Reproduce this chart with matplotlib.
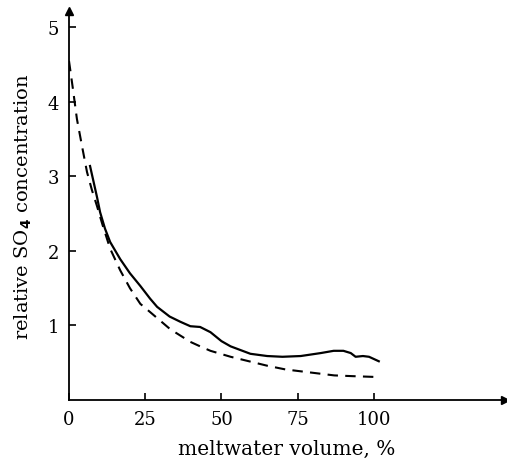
import matplotlib
matplotlib.use('Agg')
import matplotlib.pyplot as plt

# Values (meltwater volume %, relative SO4 concentration)
solid_x = [6.9, 9.2, 10.2, 11.8, 13.5, 16.8, 20.0, 23.4, 26.6, 28.9, 33.0, 36.5, 39.8,
           43.0, 46.4, 50.0, 53.0, 59.5, 65.0, 70.0, 76.0, 82.6, 86.8, 90.0, 92.4,
           94.0, 96.4, 98.4, 101.6]
solid_y = [3.14, 2.72, 2.52, 2.30, 2.12, 1.89, 1.70, 1.53, 1.36, 1.25, 1.12, 1.05, 0.99,
           0.98, 0.91, 0.79, 0.72, 0.62, 0.59, 0.58, 0.59, 0.63, 0.66, 0.66, 0.63,
           0.58, 0.59, 0.58, 0.52]

dashed_x = [0.0, 1.3, 2.6, 4.3, 5.9, 7.5, 9.2, 11.0, 13.5, 16.8, 20.0, 23.4, 26.6, 33.2,
            39.8, 43.0, 46.4, 53.0, 59.0, 65.0, 71.0, 77.0, 87.0, 93.0, 100.0]
dashed_y = [4.55, 4.17, 3.77, 3.40, 3.06, 2.82, 2.60, 2.35, 2.03, 1.74, 1.50, 1.29, 1.18, 0.95,
            0.78, 0.72, 0.66, 0.58, 0.52, 0.46, 0.41, 0.38, 0.33, 0.32, 0.31]

x_ticks = [0, 25, 50, 75, 100]
y_ticks = [1, 2, 3, 4, 5]

plt.rcParams['font.family'] = ['DejaVu Serif']

fig = plt.figure(figsize=(5.07, 4.60), dpi=100)
ax = fig.add_axes([69 / 507, 59 / 460, 436 / 507, 389 / 460])

ax.plot(solid_x, solid_y, color='black', lw=1.6, solid_joinstyle='round')
ax.plot(dashed_x, dashed_y, color='black', lw=1.5, dashes=(5, 3.5))

ax.set_xlim(0, 143)
ax.set_ylim(0, 5.22)
ax.set_xticks(x_ticks)
ax.set_yticks(y_ticks)
ax.tick_params(direction='in', length=5, width=1.2, labelsize=13, pad=7)

for side in ('top', 'right'):
    ax.spines[side].set_visible(False)
for side in ('left', 'bottom'):
    ax.spines[side].set_linewidth(1.3)

# axis arrows
ax.plot(1, 0, '>', color='black', ms=6, transform=ax.transAxes, clip_on=False)
ax.plot(0, 1, '^', color='black', ms=6, transform=ax.transAxes, clip_on=False)

ax.set_xlabel('meltwater volume, %', fontsize=14.5, labelpad=8)
ax.set_ylabel('relative SO$_\\mathbf{4}$ concentration', fontsize=14, labelpad=10)

fig.savefig('out.png', dpi=100)
